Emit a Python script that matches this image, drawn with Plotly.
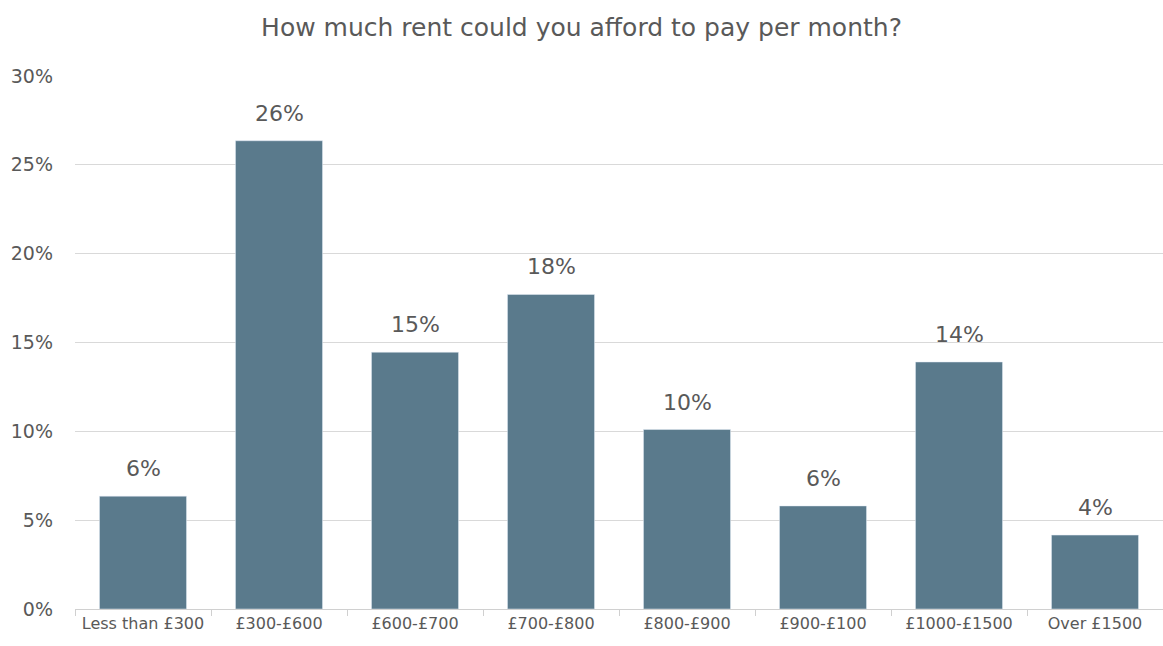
import plotly.graph_objects as go

categories = ["Less than £300", "£300-£600", "£600-£700", "£700-£800",
              "£800-£900", "£900-£100", "£1000-£1500", "Over £1500"]
values = [0.0635, 0.2635, 0.1445, 0.177, 0.101, 0.058, 0.139, 0.0416]
labels = ["6%", "26%", "15%", "18%", "10%", "6%", "14%", "4%"]
tick_vals = [0, 0.05, 0.10, 0.15, 0.20, 0.25, 0.30]
tick_text = ["0%", "5%", "10%", "15%", "20%", "25%", "30%"]

FONT = "DejaVu Sans, sans-serif"
GREY = "#595959"

fig = go.Figure(go.Bar(
    x=categories, y=values,
    marker=dict(color="#5a7a8c"),
))

for c, v, l in zip(categories, values, labels):
    fig.add_annotation(x=c, y=v, text=l, showarrow=False, yanchor="bottom",
                       yshift=13, font=dict(size=22, color=GREY, family=FONT))

fig.update_layout(
    width=1163, height=646,
    paper_bgcolor="white", plot_bgcolor="white",
    margin=dict(l=75, r=0, t=75, b=37),
    bargap=0.36,
    showlegend=False,
    title=dict(text="How much rent could you afford to pay per month?",
               x=0.5, xanchor="center", yref="container", y=1 - 27 / 646,
               yanchor="middle",
               font=dict(size=25, color=GREY, family=FONT)),
    font=dict(family=FONT, color=GREY),
)
fig.update_xaxes(
    type="category", showline=True, linecolor="#d0d0d0", linewidth=1,
    ticks="outside", tickson="boundaries", ticklen=6, tickcolor="#d0d0d0",
    tickfont=dict(size=16, color=GREY, family=FONT),
    showgrid=False,
)
fig.update_yaxes(
    range=[0, 0.3005], tickvals=tick_vals, ticktext=tick_text,
    showgrid=True, gridcolor="#d9d9d9", gridwidth=1,
    zeroline=False, showline=False,
    tickfont=dict(size=19, color=GREY, family=FONT),
    ticklabelstandoff=21,
)

fig.write_html("out.html", config={"displayModeBar": False},
               post_script="document.body.style.margin='0';document.body.style.overflow='hidden';")
